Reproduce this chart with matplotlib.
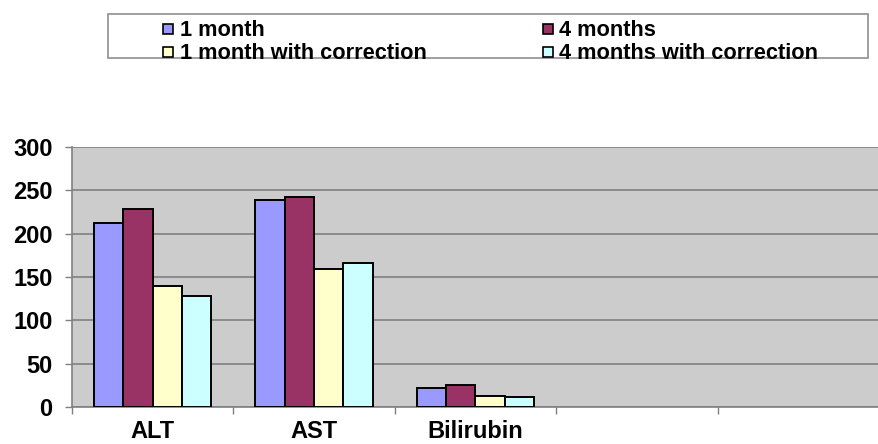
import matplotlib
matplotlib.use("Agg")
import matplotlib.pyplot as plt
from matplotlib.patches import Rectangle
from matplotlib.lines import Line2D
import numpy as np

plt.rcParams['font.family'] = ['Liberation Sans', 'DejaVu Sans']
plt.rcParams['font.weight'] = 'bold'

categories = ["ALT", "AST", "Bilirubin", "", ""]
series_names = ["1 month", "4 months", "1 month with correction", "4 months with correction"]
one_month = [212, 239, 22]
four_months = [229, 242, 25]
one_month_corr = [140, 159, 13]
four_months_corr = [128, 166, 12]
yticks = [0, 50, 100, 150, 200, 250, 300]

colors = ["#9999FF", "#993366", "#FFFFCC", "#CCFFFF"]
series = [one_month, four_months, one_month_corr, four_months_corr]

fig = plt.figure(figsize=(8.79, 4.44), dpi=100)
ax = fig.add_axes([72 / 879, 37 / 444, 807 / 879, 260 / 444])
ax.set_facecolor("#CCCCCC")

bw = 0.182
x = np.arange(3)
for i, (vals, col, name) in enumerate(zip(series, colors, series_names)):
    ax.bar(x + (i - 1.5) * bw, vals, width=bw, color=col, edgecolor="black",
           linewidth=1.4, label=name, zorder=3)

ax.set_ylim(0, 300)
ax.set_xlim(-0.5, -0.5 + 807 / 163.5)
ax.set_yticks(yticks)
ax.yaxis.grid(True, color="#808080", linewidth=1.2, zorder=1)
ax.set_axisbelow(True)

ax.set_xticks(np.arange(len(categories)))
ax.set_xticklabels(categories)
ax.set_xticks(np.arange(-0.5, len(categories), 1.0), minor=True)
ax.tick_params(axis="x", which="major", length=0, pad=9, labelsize=17)
ax.tick_params(axis="x", which="minor", length=5, color="#808080", width=1)
ax.tick_params(axis="y", length=5, color="#808080", width=1, pad=9, labelsize=17)

for s in ("top", "right"):
    ax.spines[s].set_visible(False)
for s in ("left", "bottom"):
    ax.spines[s].set_color("#808080")
    ax.spines[s].set_linewidth(1.2)

# legend box
fig.patches.append(Rectangle((108 / 879, 1 - 58 / 444), 760 / 879, 44 / 444,
                             transform=fig.transFigure, facecolor="white",
                             edgecolor="#909090", linewidth=1.2))
# small square keys, row-major order (two entries per row)
keys = [Line2D([], [], linestyle="none", marker="s", markersize=6.5,
               markerfacecolor=c, markeredgecolor="black", markeredgewidth=1.2)
        for c in colors]
order = [0, 2, 1, 3]
leg = fig.legend([keys[i] for i in order], [series_names[i] for i in order],
                 ncol=2, loc="upper left",
                 bbox_to_anchor=(153 / 879, 1 - 9 / 444), frameon=False,
                 fontsize=15.7, handlelength=0.42, handleheight=0.42,
                 handletextpad=0.3, labelspacing=0.08, columnspacing=5.35,
                 borderpad=0.0)

fig.savefig("out.png", dpi=100)
